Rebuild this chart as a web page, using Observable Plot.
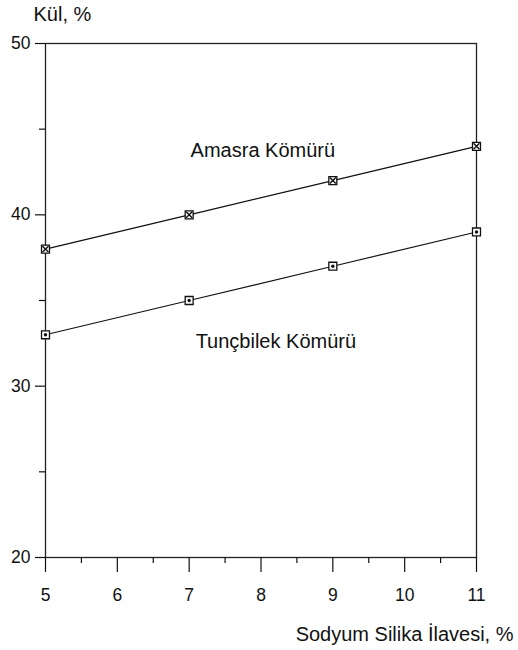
<!DOCTYPE html>
<html>
<head>
<meta charset="utf-8">
<script src="https://cdn.jsdelivr.net/npm/d3@7"></script>
<script src="https://cdn.jsdelivr.net/npm/@observablehq/plot@0.6"></script>
<style>
  html, body { margin: 0; padding: 0; background: #fff; }
</style>
</head>
<body>
<div id="chart"></div>
<script>
const silica = [5, 7, 9, 11];
const amasra = [38, 40, 42, 44];
const tuncbilek = [33, 35, 37, 39];
const seriesNames = ["Amasra Kömürü", "Tunçbilek Kömürü"];
const labelPos = [[7.02, 43.35], [7.09, 32.25]];
const xTicks = [5, 6, 7, 8, 9, 10, 11];
const xMinorTicks = [5.5, 6.5, 7.5, 8.5, 9.5, 10.5];
const yTicks = [20, 30, 40, 50];
const yMinorTicks = [25, 35, 45];
const yLabel = "Kül, %";
const xLabel = "Sodyum Silika İlavesi, %";

const rows = [];
silica.forEach((x, i) => {
  rows.push({series: seriesNames[0], x, y: amasra[i]});
  rows.push({series: seriesNames[1], x, y: tuncbilek[i]});
});
const labels = seriesNames.map((s, i) => ({text: s, x: labelPos[i][0], y: labelPos[i][1]}));

const chart = Plot.plot({
  width: 518,
  height: 650,
  marginLeft: 45,
  marginRight: 42,
  marginTop: 43,
  marginBottom: 93,
  x: {domain: [5, 11]},
  y: {domain: [20, 50]},
  style: {fontFamily: "Liberation Sans, Arial, sans-serif", fontSize: "17px", color: "#111", background: "#fff"},
  marks: [
    Plot.frame({stroke: "#222", strokeWidth: 1.3}),
    Plot.axisX(xTicks, {tickSize: 15, tickPadding: 16, label: null, fontSize: 17.5, strokeWidth: 1.2}),
    Plot.axisX(xMinorTicks, {tickSize: 6, tickFormat: () => "", label: null, strokeWidth: 1.2}),
    Plot.axisY(yTicks, {tickSize: 10, tickPadding: 5, label: null, fontSize: 17.5, strokeWidth: 1.2}),
    Plot.axisY(yMinorTicks, {tickSize: 6, tickFormat: () => "", label: null, strokeWidth: 1.2}),
    Plot.line(rows, {x: "x", y: "y", z: "series", stroke: "#111", strokeWidth: 1.2}),
    Plot.dot(rows, {x: "x", y: "y", symbol: "square", r: 4.5, stroke: "#111", fill: "#fff", strokeWidth: 1.3}),
    Plot.dot(rows.filter(d => d.series === seriesNames[0]), {x: "x", y: "y", symbol: "times", r: 2.8, stroke: "#111", strokeWidth: 1.4}),
    Plot.dot(rows.filter(d => d.series === seriesNames[1]), {x: "x", y: "y", r: 1.7, fill: "#111"}),
    Plot.text(labels, {x: "x", y: "y", text: "text", textAnchor: "start", lineAnchor: "bottom", fontSize: 20, fill: "#111"}),
    Plot.text([yLabel], {frameAnchor: "top-left", dx: -12, dy: -23, lineAnchor: "bottom", textAnchor: "start", fontSize: 20, fill: "#111"}),
    Plot.text([xLabel], {frameAnchor: "bottom-right", dx: 37, dy: 83, lineAnchor: "bottom", textAnchor: "end", fontSize: 20, fill: "#111"})
  ]
});
document.getElementById("chart").appendChild(chart);
</script>
</body>
</html>
